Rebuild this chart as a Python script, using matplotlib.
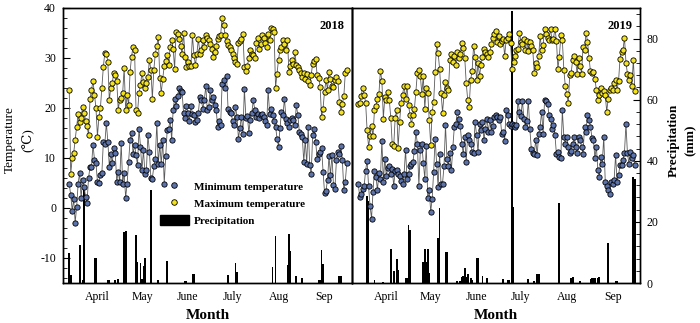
import numpy as np
import matplotlib.pyplot as plt
from matplotlib.lines import Line2D
from matplotlib.patches import Patch
from matplotlib.ticker import MultipleLocator, FixedLocator

plt.rcParams['font.family'] = ['Liberation Serif', 'DejaVu Serif']
plt.rcParams['axes.unicode_minus'] = False

# daily records, 27 March (day of year 86) to 30 September
start_doy = 86

tmax_2018 = [
    23.7, 6.8, 10.0, 11.0, 13.6, 16.3, 18.9, 17.3, 18.0, 20.3,
    19.1, 17.5, 16.4, 14.6, 21.8, 23.6, 25.4, 22.7, 20.0, 14.3,
    18.3, 20.0, 24.1, 28.3, 31.1, 30.9, 29.3, 21.6, 24.1, 25.0,
    27.1, 26.6, 25.5, 19.7, 21.6, 22.0, 23.0, 28.0, 19.6, 22.6,
    20.6, 27.3, 30.3, 32.3, 31.7, 19.6, 19.1, 23.0, 24.6, 27.1,
    25.3, 24.1, 25.1, 26.3, 29.6, 27.6, 21.9, 27.7, 30.9, 32.5,
    34.3, 26.1, 23.1, 25.9, 28.4, 29.5, 30.6, 28.6, 32.3, 33.7,
    31.9, 27.9, 35.3, 34.9, 33.9, 32.5, 30.9, 35.1, 30.3, 28.3,
    29.3, 28.4, 28.4, 34.6, 30.6, 28.6, 30.8, 33.9, 30.9, 31.6,
    33.6, 32.3, 34.7, 34.0, 33.7, 32.9, 31.9, 30.3, 31.3, 32.5,
    33.9, 34.4, 34.6, 38.1, 36.7, 34.6, 33.5, 32.7, 32.3, 31.6,
    30.9, 30.1, 29.3, 28.9, 33.1, 33.5, 33.8, 34.8, 28.3, 27.5,
    28.4, 30.0, 31.6, 30.9, 30.6, 30.1, 33.1, 34.1, 31.9, 32.9,
    34.6, 34.0, 33.1, 32.3, 34.9, 33.7, 36.1, 35.9, 35.3, 24.1,
    26.8, 29.7, 31.6, 32.3, 33.7, 32.9, 31.7, 33.7, 27.3, 28.5,
    29.7, 28.9, 31.3, 28.6, 28.3, 27.6, 27.0, 26.3, 27.1, 25.9,
    26.9, 25.4, 24.6, 26.6, 28.9, 29.5, 29.9, 26.6, 26.1, 24.3,
    18.3, 19.9, 23.3, 25.6, 23.7, 27.3, 25.8, 24.4, 24.3, 25.6,
    26.3, 25.4, 21.3, 19.3, 20.9, 22.4, 27.1, 27.7,
]

tmin_2018 = [
    4.8, 2.6, -0.5, 1.8, -2.9, 0.2, 4.9, 7.1, 2.0, 5.7,
    4.3, 2.3, 1.1, 6.0, 8.2, 8.3, 12.7, 9.7, 9.0, 5.3,
    5.1, 6.7, 7.1, 13.3, 12.9, 17.0, 13.3, 8.3, 10.9, 9.0,
    12.0, 11.0, 5.3, 7.3, 5.3, 13.1, 4.9, 7.0, 2.1, 4.9,
    9.3, 13.6, 15.1, 10.9, 12.6, 10.6, 8.6, 15.9, 12.3, 7.6,
    11.6, 6.9, 7.6, 14.6, 11.3, 6.1, 5.9, 8.4, 9.9, 17.1,
    8.9, 12.6, 8.8, 13.6, 4.9, 10.4, 15.7, 15.9, 17.7, 13.6,
    19.6, 21.9, 20.4, 22.5, 24.1, 23.5, 23.3, 19.1, 18.1, 20.4,
    19.0, 17.5, 20.4, 18.9, 18.6, 17.3, 17.7, 19.0, 22.3, 21.6,
    19.9, 21.6, 24.4, 19.6, 20.3, 23.6, 21.6, 22.3, 20.6, 19.6,
    16.3, 17.5, 16.6, 24.9, 25.7, 24.1, 26.4, 19.9, 19.3, 19.1,
    17.5, 16.6, 20.3, 18.3, 13.9, 16.0, 18.3, 14.9, 23.9, 18.1,
    18.4, 15.1, 17.6, 19.0, 21.6, 19.6, 18.3, 18.9, 18.0, 18.6,
    18.9, 18.3, 17.5, 16.6, 23.6, 18.9, 19.9, 18.6, 17.5, 16.3,
    13.9, 12.3, 16.0, 19.3, 18.6, 21.9, 17.9, 17.0, 16.3, 17.6,
    18.1, 17.6, 16.6, 20.6, 18.6, 15.3, 14.8, 14.3, 9.3, 13.6,
    8.9, 16.3, 8.6, 6.8, 14.6, 15.9, 13.3, 9.9, 10.9, 11.3,
    12.0, 7.3, 3.1, 3.5, 5.6, 10.4, 6.6, 10.6, 4.6, 3.9,
    9.6, 11.3, 10.9, 12.4, 9.6, 3.6, 5.3, 9.1,
]

rain_2018 = [
    9.7, 2.6, 0, 0, 0, 0, 0, 12.5, 0, 1.1,
    30.7, 0, 0, 0, 0, 0, 0, 8.3, 8.3, 0,
    0, 0, 0, 0, 0, 0, 0.9, 0.9, 0, 0,
    0, 1.1, 0, 1.4, 0, 0, 0, 16.8, 17.1, 0,
    0, 0, 0, 0, 0, 15.7, 7.0, 0, 6.7, 1.4,
    5.6, 8.3, 0, 0, 0, 30.3, 0, 0, 0, 0,
    0.9, 0, 0, 0, 0, 0, 7.2, 0, 0, 0,
    0, 0, 0, 0, 0, 0, 0, 0, 0.7, 0.7,
    0, 0, 0, 2.9, 2.9, 0, 0, 0, 0, 0,
    0, 0, 0, 0, 0, 0, 0, 0, 0, 0,
    0, 0, 0, 0, 0, 0, 0, 2.5, 0, 0,
    0, 0, 6.4, 3.6, 0, 0, 0, 0, 0, 0,
    0, 0, 0, 0, 0, 0, 0, 0, 0, 0,
    0, 0, 0, 0, 0, 0, 0, 5.3, 0, 15.4,
    0, 0, 0, 0, 0, 0, 0, 5.8, 16.0, 10.6,
    0, 0, 0, 2.2, 0, 0, 0, 1.7, 0, 0,
    0, 0, 0, 0, 0, 0, 0, 0, 1.1, 1.1,
    10.8, 6.2, 0, 0, 0, 0, 0, 0, 0, 0,
    0, 0, 2.4, 2.2, 0, 0, 0, 0,
]

tmax_2019 = [
    20.8, 21.1, 22.4, 24.1, 22.7, 21.1, 15.6, 12.3, 14.4, 16.4,
    14.4, 19.7, 20.5, 21.9, 22.8, 27.5, 25.4, 17.9, 22.3, 21.6,
    23.3, 21.7, 18.1, 12.8, 12.4, 18.1, 19.6, 12.1, 17.3, 21.1,
    22.7, 24.4, 21.9, 24.4, 20.6, 18.6, 16.8, 18.6, 19.9, 23.3,
    27.1, 27.7, 26.4, 22.9, 26.4, 19.9, 24.1, 23.1, 17.6, 12.7,
    19.3, 21.3, 27.3, 32.8, 31.1, 27.9, 23.1, 19.1, 22.6, 25.3,
    24.1, 23.7, 29.7, 30.9, 29.3, 30.4, 28.6, 31.3, 30.1, 30.9,
    33.1, 32.1, 30.1, 25.1, 21.7, 20.3, 25.6, 27.5, 32.4, 30.3,
    25.6, 29.1, 26.4, 28.6, 30.3, 31.9, 31.3, 30.8, 30.3, 31.3,
    32.9, 34.1, 34.9, 35.5, 33.3, 34.4, 32.9, 33.4, 33.9, 30.4,
    33.6, 34.1, 34.9, 33.1, 27.9, 29.3, 30.4, 31.7, 31.9, 35.1,
    33.3, 32.9, 33.9, 31.6, 33.4, 31.5, 33.3, 32.5, 31.6, 27.1,
    29.1, 28.3, 30.4, 34.4, 31.6, 32.7, 35.9, 34.9, 34.1, 33.7,
    35.8, 33.6, 33.9, 35.9, 33.5, 27.9, 30.3, 34.6, 33.6, 27.7,
    24.4, 22.8, 21.1, 26.6, 27.1, 29.7, 30.4, 29.3, 26.9, 30.1,
    28.5, 26.9, 32.3, 31.7, 35.1, 33.3, 30.1, 27.4, 27.1, 27.3,
    25.9, 23.6, 21.6, 22.6, 24.1, 23.1, 23.5, 22.6, 19.3, 21.9,
    23.6, 24.1, 23.6, 25.1, 25.6, 23.7, 25.4, 29.9, 31.3, 31.6,
    34.1, 29.1, 26.9, 25.6, 26.6, 24.4, 29.7, 23.5,
]

tmin_2019 = [
    4.9, 2.3, 2.9, 3.9, 4.4, 7.5, 9.5, 4.4, 0.4, -2.1,
    3.3, 7.5, 6.3, 3.6, 7.1, 5.9, 13.5, 5.3, 9.9, 6.4,
    8.1, 8.4, 6.8, 7.9, 4.4, 7.5, 7.7, 6.8, 6.4, 5.5,
    4.9, 6.8, 11.6, 5.9, 6.8, 8.4, 8.9, 9.3, 11.5, 15.3,
    12.8, 4.4, 11.6, 12.9, 9.1, 5.9, 12.5, 2.1, 3.6, -0.7,
    1.9, 7.3, 13.9, 8.9, 4.3, 10.8, 4.8, 4.9, 8.4, 16.6,
    9.9, 8.4, 11.1, 7.6, 12.3, 16.3, 16.9, 19.3, 17.9, 16.4,
    12.9, 10.9, 14.3, 9.3, 14.6, 13.6, 12.9, 11.3, 11.0, 17.3,
    14.6, 11.2, 16.9, 15.6, 17.3, 13.6, 15.9, 17.9, 15.3, 17.6,
    15.3, 16.4, 18.3, 18.6, 18.3, 17.6, 18.3, 14.9, 15.3, 13.5,
    19.7, 18.6, 16.8, 16.4, 16.8, 16.6, 16.3, 16.6, 21.5, 19.3,
    18.4, 21.5, 17.9, 16.3, 17.5, 21.5, 15.9, 11.9, 11.0, 10.8,
    13.6, 10.6, 14.9, 16.3, 19.3, 14.9, 21.7, 21.5, 20.9, 18.6,
    17.9, 15.9, 16.6, 14.6, 10.8, 11.2, 10.3, 10.1, 19.6, 14.3,
    12.9, 14.3, 12.3, 11.1, 11.4, 12.9, 14.3, 12.3, 11.0, 14.3,
    13.6, 12.3, 10.9, 16.3, 15.3, 18.6, 17.6, 16.3, 14.1, 13.7,
    10.0, 12.3, 7.7, 6.3, 10.3, 8.9, 14.3, 5.3, 4.4, 3.7,
    2.8, 5.3, 4.9, 5.6, 10.6, 5.3, 6.6, 8.6, 8.6, 9.6,
    11.1, 16.8, 11.0, 8.9, 11.3, 10.1, 10.6, 8.6,
]

rain_2019 = [
    0, 0, 0, 0, 0, 0, 28.5, 27.0, 0, 0,
    0, 1.1, 0, 0, 0, 0, 0, 0.4, 0, 0,
    0, 0, 11.0, 0, 4.0, 0, 8.0, 4.4, 0, 0,
    0, 0, 1.8, 1.8, 19.0, 17.4, 0, 0, 0, 0,
    0, 0, 0, 0, 6.8, 11.2, 7.0, 11.2, 3.4, 0,
    0, 0, 0, 0, 14.6, 24.5, 0, 0, 0, 10.2,
    10.2, 0, 0, 0, 0, 0, 0, 0.5, 0, 0.5,
    2.1, 2.3, 4.8, 2.1, 2.9, 0, 1.5, 1.0, 0, 0,
    8.2, 8.2, 0, 0, 2.3, 0, 0, 1.5, 0, 0,
    0, 0, 0, 0, 0, 0, 0, 0, 1.2, 0,
    0, 1.0, 1.0, 0, 89.0, 25.0, 0, 0, 0, 0,
    0, 0, 0, 0, 0, 1.2, 0, 0, 0, 0.5,
    0, 3.1, 3.1, 0, 0, 0, 0, 0, 0, 0,
    0, 0, 0, 0, 0, 0, 26.3, 0, 0, 0,
    0, 0, 0, 0, 1.8, 2.1, 0, 0, 0, 0,
    0.5, 0, 0, 0, 0, 0, 0, 1.2, 1.5, 1.5,
    1.8, 0, 1.8, 2.1, 0, 0, 0, 0, 0, 13.2,
    0, 0, 0, 0, 0.5, 0.5, 0, 0, 0, 0,
    0, 0, 0, 0, 0, 0, 34.6, 34.0,
]

month_labels = ['April', 'May', 'June', 'July', 'Aug', 'Sep']
month_mid_doy = [105, 135, 166, 196, 227, 258]

c_min = '#5b72aa'
c_max = '#f3e21c'

W, H = 700, 323
fig = plt.figure(figsize=(W / 100, H / 100), dpi=100)


def px_rect(x0, x1, y_top, y_bot):
    return [x0 / W, 1 - y_bot / H, (x1 - x0) / W, (y_bot - y_top) / H]


def draw_panel(rect, tmin, tmax, rain, year, side):
    ax = fig.add_axes(rect)
    axr = ax.twinx()
    ax.set_zorder(axr.get_zorder() + 1)
    ax.patch.set_visible(False)

    days = start_doy + np.arange(len(tmax))

    axr.bar(days, rain, width=1.2, color='black', linewidth=0)
    axr.set_ylim(0, 90)

    for vals, col in ((tmin, c_min), (tmax, c_max)):
        ax.plot(days, vals, color='#5a5a5a', lw=0.6, zorder=2)
        ax.plot(days, vals, ls='none', marker='o', ms=3.8, mfc=col,
                mec='black', mew=0.6, zorder=3)

    ax.set_xlim(81.8, 276.5)
    ax.set_ylim(-15, 40)
    ax.xaxis.set_major_locator(FixedLocator(month_mid_doy))
    ax.set_xticklabels(month_labels, fontsize=8.5)
    ax.tick_params(axis='x', length=0, pad=6)
    ax.set_xlabel('Month', fontsize=11, fontweight='bold', labelpad=4)

    if side == 'left':
        ax.yaxis.set_major_locator(MultipleLocator(10))
        ax.yaxis.set_minor_locator(MultipleLocator(2))
        ax.tick_params(axis='y', which='both', direction='in', labelsize=8.5, pad=5)
        ax.tick_params(axis='y', which='major', length=5)
        ax.tick_params(axis='y', which='minor', length=3)
        axr.set_yticks([])
    else:
        ax.set_yticks([])
        axr.yaxis.set_major_locator(MultipleLocator(20))
        axr.yaxis.set_minor_locator(MultipleLocator(4))
        axr.set_yticks([0, 20, 40, 60, 80])
        axr.tick_params(axis='y', which='both', direction='in', labelsize=8.5, pad=5)
        axr.tick_params(axis='y', which='major', length=5)
        axr.tick_params(axis='y', which='minor', length=3)

    for a in (ax, axr):
        for s in a.spines.values():
            s.set_linewidth(1.0)

    ax.text(0.975, 0.955, year, transform=ax.transAxes, ha='right', va='top',
            fontsize=9, fontweight='bold')
    return ax, axr


ax18, _ = draw_panel(px_rect(63, 352, 8, 283), tmin_2018, tmax_2018, rain_2018, '2018', 'left')
ax19, _ = draw_panel(px_rect(352, 640, 8, 283), tmin_2019, tmax_2019, rain_2019, '2019', 'right')

fig.text(19 / W, 1 - 140 / H, 'Temperature\n(℃)', rotation=90, ha='center', va='center',
         fontsize=9.5, linespacing=1.6)
fig.text(682 / W, 1 - 140 / H, 'Precipitation\n(mm)', rotation=90, ha='center', va='center',
         fontsize=9.5, fontweight='bold', linespacing=1.6)

handles = [
    Line2D([], [], ls='none', marker='o', ms=4, mfc=c_min, mec='black', mew=0.6),
    Line2D([], [], ls='none', marker='o', ms=4, mfc=c_max, mec='black', mew=0.6),
    Patch(facecolor='black', edgecolor='black'),
]
ax18.legend(handles, ['Minimum temperature', 'Maximum temperature', 'Precipitation'],
            loc='upper left', bbox_to_anchor=(160 / W, 1 - 181 / H),
            bbox_transform=fig.transFigure, frameon=False,
            prop={'size': 8, 'weight': 'bold'}, handlelength=2.6,
            handleheight=1.0, handletextpad=0.45, labelspacing=0.55,
            borderaxespad=0, borderpad=0)

fig.savefig('out.png', dpi=100)
